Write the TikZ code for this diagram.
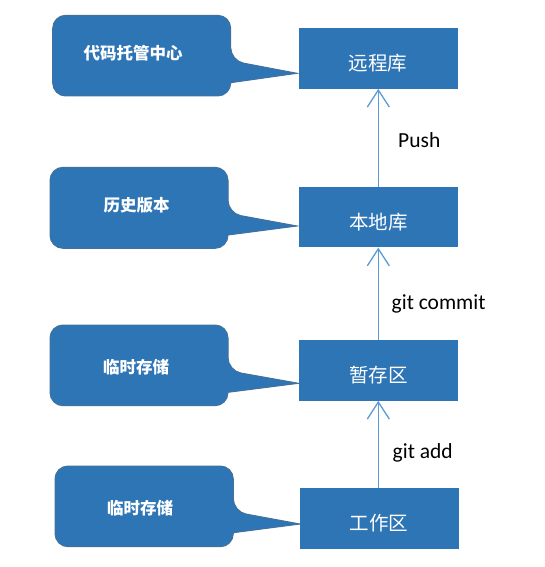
\documentclass[tikz,border=0pt]{standalone}
\usepackage{fontspec}
\setmainfont{Carlito}
\newfontfamily\cjk{Noto Sans CJK SC}
\usetikzlibrary{arrows.meta}
\definecolor{boxblue}{RGB}{46,117,182}
\definecolor{edgeblue}{RGB}{65,113,156}
\definecolor{arrowblue}{RGB}{91,155,213}
\tikzset{
  stagebox/.style={draw=none, fill=boxblue, minimum width=159pt, minimum height=60.5pt, inner sep=0pt},
  boxtext/.style={text=white, font=\cjk\fontsize{19.5}{22}\selectfont, inner sep=0pt},
  calloutshape/.style={fill=boxblue, draw=edgeblue, line width=1pt},
  callouttext/.style={text=white, font=\cjk\bfseries\fontsize{16.5}{19}\selectfont, inner sep=0pt},
  flow/.style={draw=arrowblue, line width=1.3pt, -{Straight Barb[length=17pt,width=22pt,line width=1.3pt]}},
  steplabel/.style={anchor=west, font=\fontsize{21.5}{24}\selectfont, inner sep=0pt, text=black}
}
\begin{document}
\begin{tikzpicture}[x=1pt,y=-1pt]
\useasboundingbox (0,0) rectangle (545,567);

% stage boxes
\node[stagebox] (remote) at (378,58.4) {};
\node[stagebox] (local)  at (378.5,217.2) {};
\node[stagebox] (stage)  at (378.7,370.4) {};
\node[stagebox] (work)   at (379,518.3) {};
\node[boxtext] (remotetxt) at ([yshift=-4.5pt]remote.center) {远程库};
\node[boxtext] (localtxt)  at ([yshift=-5pt]local.center) {本地库};
\node[boxtext] (stagetxt)  at ([yshift=-4.5pt]stage.center) {暂存区};
\node[boxtext] (worktxt)   at ([yshift=-5pt]work.center) {工作区};

% callout tips
\coordinate (t1) at (297,73.3);
\coordinate (t2) at (297,226);
\coordinate (t3) at (298.5,383.3);
\coordinate (t4) at (300,524);

% callouts
\path[calloutshape] (52.7,55) [rounded corners=13pt] -- (52.7,15.3) -- (230.7,15.3) -- (230.7,60.7) [sharp corners] -- (t1) -- (230.7,82.7) [rounded corners=13pt] -- (230.7,96) -- (52.7,96) -- cycle;
\path[calloutshape] (50,207) [rounded corners=13pt] -- (50,167.3) -- (228,167.3) -- (228,213.3) [sharp corners] -- (t2) -- (228,235) [rounded corners=13pt] -- (228,248.3) -- (50,248.3) -- cycle;
\path[calloutshape] (50,365) [rounded corners=13pt] -- (50,325) -- (228,325) -- (228,370.7) [sharp corners] -- (t3) -- (228,392.3) [rounded corners=13pt] -- (228,405.7) -- (50,405.7) -- cycle;
\path[calloutshape] (55,506) [rounded corners=13pt] -- (55,466) -- (233.3,466) -- (233.3,511.7) [sharp corners] -- (t4) -- (233.3,532.7) [rounded corners=13pt] -- (233.3,546.7) -- (55,546.7) -- cycle;

\node[callouttext] (c1) at (133,52.7) {代码托管中心};
\node[callouttext] (c2) at (136.7,205) {历史版本};
\node[callouttext] (c3) at (136,366.7) {临时存储};
\node[callouttext] (c4) at (140,508.3) {临时存储};

% flow arrows
\draw[flow] ([xshift=-0.2pt]local.north) -- ([xshift=-0.2pt]local.north |- remote.south);
\draw[flow] ([xshift=-0.4pt]stage.north) -- ([xshift=-0.4pt]stage.north |- local.south);
\draw[flow] ([xshift=-0.7pt]work.north) -- ([xshift=-0.7pt]work.north |- stage.south);

% labels
\node[steplabel] (lpush)   at (398,140) {Push};
\node[steplabel] (lcommit) at (391.5,304) {git commit};
\node[steplabel] (ladd)    at (392.5,452.5) {git add};
\end{tikzpicture}
\end{document}
